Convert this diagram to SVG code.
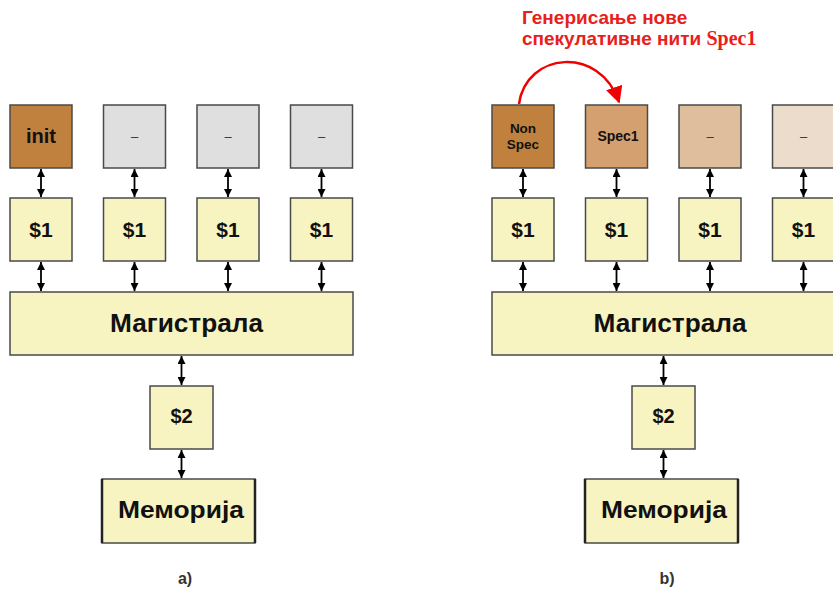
<svg xmlns="http://www.w3.org/2000/svg" width="833" height="590" viewBox="0 0 833 590">
  <defs>
    <marker id="ah" viewBox="0 0 10 10" refX="10" refY="5" markerWidth="8" markerHeight="8" markerUnits="userSpaceOnUse" orient="auto-start-reverse">
      <path d="M0,0 L10,5 L0,10 z" fill="#000"/>
    </marker>
    <marker id="rh" viewBox="0 0 10 10" refX="9" refY="5" markerWidth="17" markerHeight="17" markerUnits="userSpaceOnUse" orient="auto">
      <path d="M0,0 L10,5 L0,10 z" fill="#f00000"/>
    </marker>
  </defs>
  <style>
    .box { stroke: #4a4a4a; stroke-width: 1.5; }
    .y { fill: #f8f4c1; }
    .t { font-family: "Liberation Sans", Arial, sans-serif; font-weight: bold; fill: #111; text-anchor: middle; }
    .dash { font-family: "Liberation Sans", Arial, sans-serif; font-size: 13px; fill: #333; text-anchor: middle; }
    .link { stroke: #000; stroke-width: 1.8; fill: none; marker-start: url(#ah); marker-end: url(#ah); }
    .side { stroke: #222; stroke-width: 2.5; }
    .cap { font-family: "Liberation Sans", Arial, sans-serif; font-weight: bold; font-size: 16px; fill: #333; text-anchor: middle; }
    .red { font-family: "Liberation Sans", Arial, sans-serif; font-weight: bold; font-size: 19px; fill: #e8201c; }
  </style>
  <rect width="833" height="590" fill="#fff"/>

  <!-- panel a -->
  <g id="a-thread1"><rect class="box" x="10" y="105" width="62" height="63" fill="#c0803e"/><text class="t" x="41" y="143" font-size="20">init</text></g>
  <g id="a-thread2"><rect class="box" x="103.5" y="105" width="62" height="63" fill="#dfdfdf"/><text class="dash" x="134.5" y="141">–</text></g>
  <g id="a-thread3"><rect class="box" x="197" y="105" width="62" height="63" fill="#dfdfdf"/><text class="dash" x="228" y="141">–</text></g>
  <g id="a-thread4"><rect class="box" x="290.5" y="105" width="62" height="63" fill="#dfdfdf"/><text class="dash" x="321.5" y="141">–</text></g>

  <g id="a-l1-1"><rect class="box y" x="10" y="198" width="62" height="63"/><text class="t" x="41" y="237" font-size="21">$1</text></g>
  <g id="a-l1-2"><rect class="box y" x="103.5" y="198" width="62" height="63"/><text class="t" x="134.5" y="237" font-size="21">$1</text></g>
  <g id="a-l1-3"><rect class="box y" x="197" y="198" width="62" height="63"/><text class="t" x="228" y="237" font-size="21">$1</text></g>
  <g id="a-l1-4"><rect class="box y" x="290.5" y="198" width="62" height="63"/><text class="t" x="321.5" y="237" font-size="21">$1</text></g>

  <g id="a-bus"><rect class="box y" x="10" y="292" width="343" height="63"/><text class="t" x="186.5" y="332" font-size="25" textLength="153" lengthAdjust="spacingAndGlyphs">Магистрала</text></g>
  <g id="a-l2"><rect class="box y" x="150" y="386" width="63" height="63"/><text class="t" x="181.5" y="423" font-size="20">$2</text></g>
  <g id="a-mem"><rect class="box y" x="102" y="479" width="153" height="64"/><line class="side" x1="102" y1="479" x2="102" y2="543"/><line class="side" x1="255" y1="479" x2="255" y2="543"/><text class="t" x="181" y="518" font-size="24" textLength="126" lengthAdjust="spacingAndGlyphs">Меморија</text></g>
  <text class="cap" x="185" y="584">а)</text>

  <!-- panel b -->
  <g id="b-thread1"><rect class="box" x="492" y="105" width="62" height="63" fill="#c0803e"/><text class="t" x="523" y="133" font-size="13.5">Non</text><text class="t" x="523" y="149" font-size="13.5">Spec</text></g>
  <g id="b-thread2"><rect class="box" x="585.5" y="105" width="62" height="63" fill="#d4a070"/><text class="t" x="618" y="141" font-size="14">Spec1</text></g>
  <g id="b-thread3"><rect class="box" x="679" y="105" width="62" height="63" fill="#dfbe9e"/><text class="dash" x="710" y="141">–</text></g>
  <g id="b-thread4"><rect class="box" x="772.5" y="105" width="62" height="63" fill="#ebdccb"/><text class="dash" x="803.5" y="141">–</text></g>

  <g id="b-l1-1"><rect class="box y" x="492" y="198" width="62" height="63"/><text class="t" x="523" y="237" font-size="21">$1</text></g>
  <g id="b-l1-2"><rect class="box y" x="585.5" y="198" width="62" height="63"/><text class="t" x="616.5" y="237" font-size="21">$1</text></g>
  <g id="b-l1-3"><rect class="box y" x="679" y="198" width="62" height="63"/><text class="t" x="710" y="237" font-size="21">$1</text></g>
  <g id="b-l1-4"><rect class="box y" x="772.5" y="198" width="62" height="63"/><text class="t" x="803.5" y="237" font-size="21">$1</text></g>

  <g id="b-bus"><rect class="box y" x="492" y="292" width="343" height="63"/><text class="t" x="670" y="332" font-size="25" textLength="153" lengthAdjust="spacingAndGlyphs">Магистрала</text></g>
  <g id="b-l2"><rect class="box y" x="632" y="386" width="63" height="63"/><text class="t" x="663.5" y="423" font-size="20">$2</text></g>
  <g id="b-mem"><rect class="box y" x="585" y="479" width="153" height="64"/><line class="side" x1="585" y1="479" x2="585" y2="543"/><line class="side" x1="738" y1="479" x2="738" y2="543"/><text class="t" x="664" y="518" font-size="24" textLength="126" lengthAdjust="spacingAndGlyphs">Меморија</text></g>
  <text class="cap" x="667" y="584">b)</text>

  <text class="red" x="522" y="24">Генерисање нове</text>
  <text class="red" x="522" y="45">спекулативне нити <tspan font-family="Liberation Serif, Times New Roman, serif" font-size="20">Spec1</tspan></text>

  <!-- connectors -->
  <g id="connectors">
    <line class="link" x1="41" y1="169" x2="41" y2="197"/>
    <line class="link" x1="134.5" y1="169" x2="134.5" y2="197"/>
    <line class="link" x1="228" y1="169" x2="228" y2="197"/>
    <line class="link" x1="321.5" y1="169" x2="321.5" y2="197"/>
    <line class="link" x1="41" y1="262" x2="41" y2="291"/>
    <line class="link" x1="134.5" y1="262" x2="134.5" y2="291"/>
    <line class="link" x1="228" y1="262" x2="228" y2="291"/>
    <line class="link" x1="321.5" y1="262" x2="321.5" y2="291"/>
    <line class="link" x1="181.5" y1="356" x2="181.5" y2="385"/>
    <line class="link" x1="181.5" y1="450" x2="181.5" y2="478"/>

    <line class="link" x1="523" y1="169" x2="523" y2="197"/>
    <line class="link" x1="616.5" y1="169" x2="616.5" y2="197"/>
    <line class="link" x1="710" y1="169" x2="710" y2="197"/>
    <line class="link" x1="803.5" y1="169" x2="803.5" y2="197"/>
    <line class="link" x1="523" y1="262" x2="523" y2="291"/>
    <line class="link" x1="616.5" y1="262" x2="616.5" y2="291"/>
    <line class="link" x1="710" y1="262" x2="710" y2="291"/>
    <line class="link" x1="803.5" y1="262" x2="803.5" y2="291"/>
    <line class="link" x1="663.5" y1="356" x2="663.5" y2="385"/>
    <line class="link" x1="663.5" y1="450" x2="663.5" y2="478"/>

    <path d="M519,104 C526,52 600,45 619,102" stroke="#f00000" stroke-width="2.5" fill="none" marker-end="url(#rh)"/>
  </g>
</svg>
